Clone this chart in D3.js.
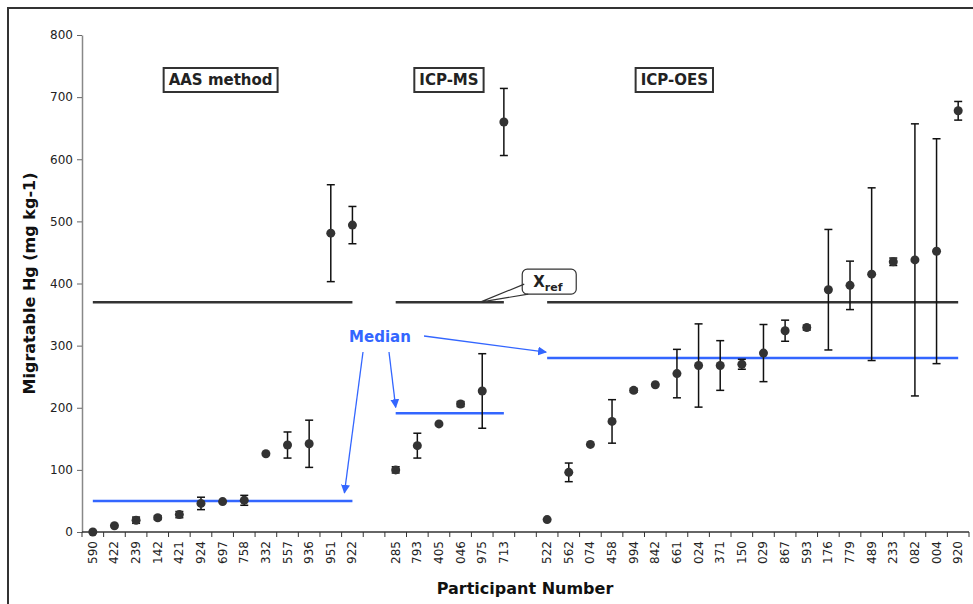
<!DOCTYPE html>
<style>
  body { margin: 0; background: #fff; }
  svg text { font-family: 'DejaVu Sans', Verdana, sans-serif; }
</style>
<svg width="973" height="604"></svg>
<script src="https://cdn.jsdelivr.net/npm/d3@7/dist/d3.min.js"></script>
<script>
  // participant codes, values and +/- uncertainty per method group
  var aasIds  = ["590","422","239","142","421","924","697","758","332","557","936","951","922"];
  var aasVals = [0, 10, 19, 23, 28, 46, 49, 51, 126, 140, 142, 481, 494];
  var aasErr  = [0, 0, 5, 3, 5, 10, 0, 8, 0, 21, 38, 78, 30];

  var msIds  = ["285","793","405","046","975","713"];
  var msVals = [100, 139, 174, 206, 227, 660];
  var msErr  = [5, 20, 0, 4, 60, 54];

  var oesIds  = ["522","562","074","458","994","842","661","024","371","150","029","867","593","176","779","489","233","082","004","920"];
  var oesVals = [20, 96, 141, 178, 228, 237, 255, 268, 268, 270, 288, 324, 329, 390, 397, 415, 435, 438, 452, 678];
  var oesErr  = [0, 15, 0, 35, 3, 0, 39, 67, 40, 8, 46, 17, 4, 97, 39, 139, 6, 219, 181, 15];

  var groupNames = ["AAS method", "ICP-MS", "ICP-OES"];
  var medians = [50, 191, 280];
  var xref = 370;
  var yTicks = [0, 100, 200, 300, 400, 500, 600, 700, 800];

  var groups = [
    {name: groupNames[0], ids: aasIds, vals: aasVals, err: aasErr, median: medians[0]},
    {name: groupNames[1], ids: msIds, vals: msVals, err: msErr, median: medians[1]},
    {name: groupNames[2], ids: oesIds, vals: oesVals, err: oesErr, median: medians[2]}
  ];

  // category slots, with a blank slot between groups
  var slots = aasIds.concat(["gap1"], msIds, ["gap2"], oesIds);

  var svg = d3.select("svg"),
      margin = {top: 35, left: 82, right: 4, bottom: 72},
      width = 887,
      height = 497;

  // outer frame
  svg.append("rect")
    .attr("x", 8).attr("y", 8)
    .attr("width", 1000).attr("height", 800)
    .attr("fill", "none")
    .attr("stroke", "#333")
    .attr("stroke-width", 2);

  var g = svg.append("g").attr("transform", "translate(" + margin.left + "," + margin.top + ")");

  var x = d3.scaleBand().domain(slots).range([0, width]).padding(0);
  var y = d3.scaleLinear().domain([0, 800]).range([height, 0]);
  var bw = x.bandwidth();
  function cx(id) { return x(id) + bw / 2; }

  // y axis
  var yAxis = g.append("g")
    .call(d3.axisLeft(y).tickValues(yTicks).tickSize(5).tickPadding(4).tickSizeOuter(0));
  yAxis.select(".domain").attr("stroke", "#888").attr("stroke-width", 1.5);
  yAxis.selectAll(".tick line").attr("stroke", "#666");
  yAxis.selectAll("text").attr("font-size", "12px").attr("fill", "#222");

  // x axis: line, boundary ticks, rotated labels
  g.append("line")
    .attr("x1", 0).attr("x2", width)
    .attr("y1", height).attr("y2", height)
    .attr("stroke", "#333").attr("stroke-width", 1.5);

  g.append("g").selectAll("line")
    .data(slots.concat(["end"]))
    .enter().append("line")
    .attr("x1", function(d) { return d == "end" ? width : x(d); })
    .attr("x2", function(d) { return d == "end" ? width : x(d); })
    .attr("y1", height).attr("y2", height + 5)
    .attr("stroke", "#333");

  g.append("g").selectAll("text")
    .data(slots.filter(function(d) { return d.indexOf("gap") < 0; }))
    .enter().append("text")
    .attr("transform", function(d) { return "translate(" + (cx(d) + 4) + "," + (height + 9) + ") rotate(-90)"; })
    .attr("text-anchor", "end")
    .attr("font-size", "12px")
    .attr("fill", "#222")
    .text(function(d) { return d; });

  // axis titles
  svg.append("text")
    .attr("x", 525).attr("y", 594)
    .attr("text-anchor", "middle")
    .attr("font-size", "16px").attr("font-weight", "bold")
    .attr("fill", "#111")
    .text("Participant Number");

  svg.append("text")
    .attr("transform", "translate(35," + (margin.top + height / 2) + ") rotate(-90)")
    .attr("text-anchor", "middle")
    .attr("font-size", "16px").attr("font-weight", "bold")
    .attr("fill", "#111")
    .text("Migratable Hg (mg kg-1)");

  // reference value and median lines per group
  groups.forEach(function(grp) {
    var x1 = cx(grp.ids[0]), x2 = cx(grp.ids[grp.ids.length - 1]);
    g.append("line")
      .attr("x1", x1).attr("x2", x2)
      .attr("y1", y(xref)).attr("y2", y(xref))
      .attr("stroke", "#333").attr("stroke-width", 2.5);
    g.append("line")
      .attr("x1", x1).attr("x2", x2)
      .attr("y1", y(grp.median)).attr("y2", y(grp.median))
      .attr("stroke", "#3366ff").attr("stroke-width", 2.5);
  });

  // error bars + points
  groups.forEach(function(grp) {
    var pts = grp.ids.map(function(id, i) { return {id: id, v: grp.vals[i], e: grp.err[i]}; });
    var eb = g.append("g").selectAll("g")
      .data(pts.filter(function(d) { return d.e > 0; }))
      .enter().append("g")
      .attr("stroke", "#111").attr("stroke-width", 1.5);
    eb.append("line")
      .attr("x1", function(d) { return cx(d.id); })
      .attr("x2", function(d) { return cx(d.id); })
      .attr("y1", function(d) { return y(d.v - d.e); })
      .attr("y2", function(d) { return y(d.v + d.e); });
    [-1, 1].forEach(function(s) {
      eb.append("line")
        .attr("x1", function(d) { return cx(d.id) - 4; })
        .attr("x2", function(d) { return cx(d.id) + 4; })
        .attr("y1", function(d) { return y(d.v + s * d.e); })
        .attr("y2", function(d) { return y(d.v + s * d.e); });
    });
    g.append("g").selectAll("circle")
      .data(pts)
      .enter().append("circle")
      .attr("cx", function(d) { return cx(d.id); })
      .attr("cy", function(d) { return y(d.v); })
      .attr("r", 4.5)
      .attr("fill", "#333");
  });

  // method labels in boxes
  var labelX = [cx("697") - 2, cx("405") + 10, cx("842") + 19];
  groups.forEach(function(grp, i) {
    var lg = g.append("g").attr("transform", "translate(" + labelX[i] + ",50)");
    var t = lg.append("text")
      .attr("text-anchor", "middle")
      .attr("font-size", "15px").attr("font-weight", "bold")
      .attr("fill", "#222")
      .text(grp.name);
    var bb = t.node().getBBox();
    lg.insert("rect", "text")
      .attr("x", bb.x - 5).attr("y", bb.y - 3)
      .attr("width", bb.width + 10).attr("height", bb.height + 6)
      .attr("fill", "#fff")
      .attr("stroke", "#333").attr("stroke-width", 2);
  });

  // X_ref callout
  var tipX = cx("975") - 2, tipY = y(xref);
  var boxX = tipX + 42, boxY = tipY - 33, boxW = 54, boxH = 25;
  g.append("path")
    .attr("d", "M" + (boxX + 2) + "," + (boxY + 15) + " L" + tipX + "," + tipY + " L" + (boxX + 6) + "," + (boxY + boxH) )
    .attr("fill", "#fff").attr("stroke", "#333").attr("stroke-width", 1.2);
  g.append("rect")
    .attr("x", boxX).attr("y", boxY)
    .attr("width", boxW).attr("height", boxH)
    .attr("rx", 5)
    .attr("fill", "none").attr("stroke", "#333").attr("stroke-width", 1.2);
  var xt = g.append("text")
    .attr("x", boxX + 11).attr("y", boxY + 18)
    .attr("font-size", "15px").attr("font-weight", "bold")
    .attr("fill", "#222");
  xt.append("tspan").text("X");
  xt.append("tspan").attr("dy", 4).attr("font-size", "11px").text("ref");

  // Median annotation with arrows
  var medText = {x: 380 - margin.left, y: 342 - margin.top};
  g.append("text")
    .attr("x", medText.x).attr("y", medText.y)
    .attr("text-anchor", "middle")
    .attr("font-size", "15px").attr("font-weight", "bold")
    .attr("fill", "#3366ff")
    .text("Median");

  svg.append("defs").append("marker")
    .attr("id", "arr")
    .attr("viewBox", "0 0 10 10")
    .attr("refX", 9).attr("refY", 5)
    .attr("markerWidth", 9).attr("markerHeight", 9)
    .attr("markerUnits", "userSpaceOnUse")
    .attr("orient", "auto")
    .append("path").attr("d", "M0,0 L10,5 L0,10 Z").attr("fill", "#3366ff");

  var arrows = [
    {x1: medText.x - 17, y1: medText.y + 10, x2: cx("922") - 8, y2: y(medians[0]) - 8},
    {x1: medText.x + 9, y1: medText.y + 10, x2: cx("285"), y2: y(medians[1]) - 6},
    {x1: medText.x + 44, y1: medText.y - 6, x2: cx("522") - 1, y2: y(medians[2]) - 6}
  ];
  g.append("g").selectAll("line")
    .data(arrows)
    .enter().append("line")
    .attr("x1", function(d) { return d.x1; })
    .attr("y1", function(d) { return d.y1; })
    .attr("x2", function(d) { return d.x2; })
    .attr("y2", function(d) { return d.y2; })
    .attr("stroke", "#3366ff").attr("stroke-width", 1.3)
    .attr("marker-end", "url(#arr)");
</script>
